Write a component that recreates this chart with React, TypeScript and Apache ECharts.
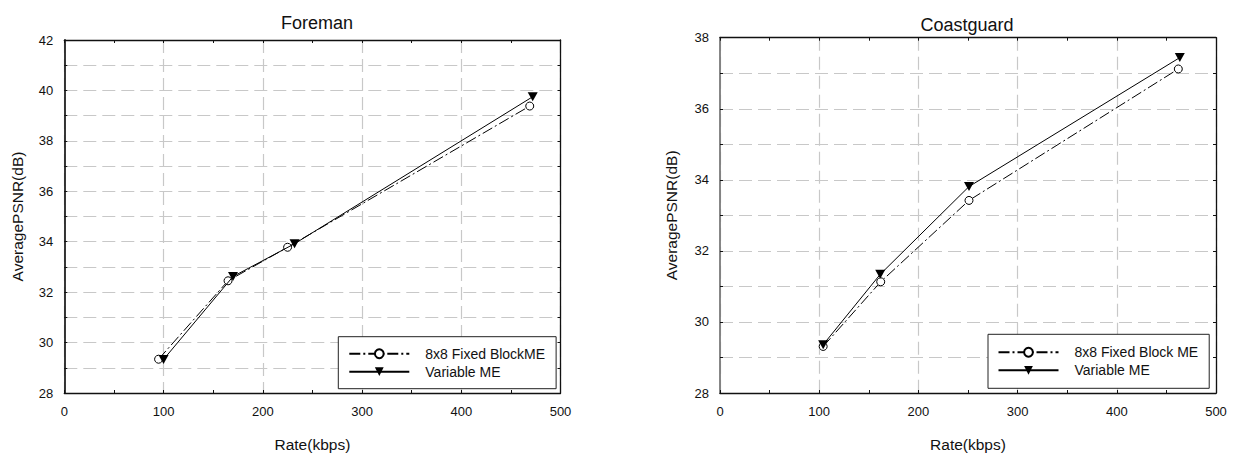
import React, { useEffect, useRef } from "react";
import * as echarts from "echarts";

const FONT = "'Liberation Sans', Arial, Helvetica, sans-serif";

const titles = ["Foreman", "Coastguard"];
const xAxisName = "Rate(kbps)";
const yAxisName = "AveragePSNR(dB)";

const foremanFixedName = "8x8 Fixed BlockME";
const coastFixedName = "8x8 Fixed Block ME";
const variableName = "Variable ME";

// Foreman: [rate kbps, PSNR dB]
const foremanFixed = [
  [95, 29.34],
  [165, 32.45],
  [225, 33.78],
  [469, 39.38],
];
const foremanVariable = [
  [100, 29.33],
  [170, 32.62],
  [232, 33.92],
  [472, 39.75],
];

// Coastguard: [rate kbps, PSNR dB]
const coastFixed = [
  [104, 29.31],
  [162, 31.13],
  [251, 33.42],
  [462, 37.12],
];
const coastVariable = [
  [104, 29.36],
  [161.5, 31.34],
  [251, 33.81],
  [463.5, 37.44],
];

const xRange = { min: 0, max: 500, interval: 100 };
const foremanY = { min: 28, max: 42, interval: 2 };
const coastY = { min: 28, max: 38, interval: 2 };

const gridDash = { color: "#c8c8c8", width: 1.2, type: [13, 6] as number[] };

function xAxes(gridIndex: number) {
  const bottom = {
    type: "value",
    gridIndex,
    position: "bottom",
    ...xRange,
    name: xAxisName,
    nameLocation: "middle",
    nameGap: 43,
    nameTextStyle: { fontFamily: FONT, fontSize: 15.5, color: "#111" },
    axisLine: { show: true, onZero: false, lineStyle: { color: "#111", width: 1.3 } },
    axisTick: { show: true, inside: true, length: 3, lineStyle: { color: "#111" } },
    minorTick: { show: true, splitNumber: 2, length: 3, lineStyle: { color: "#111" } },
    axisLabel: { fontFamily: FONT, fontSize: 13, color: "#111", margin: 12 },
    splitLine: { show: true, lineStyle: gridDash },
  };
  const top = {
    type: "value",
    gridIndex,
    position: "top",
    ...xRange,
    axisLine: { show: true, onZero: false, lineStyle: { color: "#111", width: 1.3 } },
    axisTick: { show: true, inside: true, length: 3, lineStyle: { color: "#111" } },
    minorTick: { show: true, splitNumber: 2, length: 3, lineStyle: { color: "#111" } },
    axisLabel: { show: false },
    splitLine: { show: false },
  };
  return [bottom, top];
}

function yAxes(gridIndex: number, range: any, leftColor: string, nameGap: number) {
  const left = {
    type: "value",
    gridIndex,
    position: "left",
    ...range,
    name: yAxisName,
    nameLocation: "middle",
    nameGap,
    nameTextStyle: { fontFamily: FONT, fontSize: 15.5, color: "#111" },
    axisLine: { show: true, onZero: false, lineStyle: { color: leftColor, width: 1.8 } },
    axisTick: { show: true, inside: true, length: 3, lineStyle: { color: "#111" } },
    minorTick: { show: true, splitNumber: 2, length: 3, lineStyle: { color: "#111" } },
    axisLabel: { fontFamily: FONT, fontSize: 13, color: "#111", margin: 11 },
    splitLine: { show: true, lineStyle: gridDash },
    minorSplitLine: { show: true, lineStyle: gridDash },
  };
  const right = {
    type: "value",
    gridIndex,
    position: "right",
    ...range,
    axisLine: { show: true, onZero: false, lineStyle: { color: "#111", width: 1.3 } },
    axisTick: { show: true, inside: true, length: 3, lineStyle: { color: "#111" } },
    minorTick: { show: true, splitNumber: 2, length: 3, lineStyle: { color: "#111" } },
    axisLabel: { show: false },
    splitLine: { show: false },
  };
  return [left, right];
}

function fixedSeries(name: string, data: number[][], xi: number, yi: number) {
  return {
    type: "line",
    name,
    data,
    xAxisIndex: xi,
    yAxisIndex: yi,
    symbol: "circle",
    symbolSize: 8,
    itemStyle: { color: "#fff", borderColor: "#000", borderWidth: 1 },
    lineStyle: { color: "#000", width: 1, type: [11, 3, 2, 3] },
    z: 3,
  };
}

function variableSeries(name: string, data: number[][], xi: number, yi: number) {
  return {
    type: "line",
    name,
    data,
    xAxisIndex: xi,
    yAxisIndex: yi,
    symbol: "triangle",
    symbolRotate: 180,
    symbolSize: [10, 9],
    itemStyle: { color: "#000" },
    lineStyle: { color: "#000", width: 1, type: "solid" },
    z: 4,
  };
}

export default function App() {
  const ref = useRef<HTMLDivElement>(null);

  useEffect(() => {
    if (!ref.current) return;
    const chart = echarts.init(ref.current, undefined, { renderer: "svg" });
    const legendCommon = {
      orient: "vertical",
      itemWidth: 60,
      itemHeight: 11,
      itemGap: 4,
      backgroundColor: "#fff",
      borderColor: "#222",
      borderWidth: 1,
      borderRadius: 0,
      textStyle: { fontFamily: FONT, fontSize: 14, color: "#111", padding: [0, 0, 0, 11] },
      selectedMode: false,
      z: 10,
    };
    chart.setOption({
      animation: false,
      backgroundColor: "#fff",
      title: [
        {
          text: titles[0],
          left: 312,
          top: 9,
          textAlign: "center",
          textStyle: { fontFamily: FONT, fontSize: 18, fontWeight: "normal", color: "#111" },
        },
        {
          text: titles[1],
          left: 962,
          top: 10.5,
          textAlign: "center",
          textStyle: { fontFamily: FONT, fontSize: 18, fontWeight: "normal", color: "#111" },
        },
      ],
      grid: [
        { left: 64.3, top: 40, width: 496.2, height: 356, containLabel: false },
        { left: 720, top: 37.7, width: 496, height: 357.6, containLabel: false },
      ],
      xAxis: [...xAxes(0), ...xAxes(1)],
      yAxis: [...yAxes(0, foremanY, "#222", 39), ...yAxes(1, coastY, "#7a7a7a", 41)],
      legend: [
        {
          ...legendCommon,
          left: 338.3,
          top: 336.7,
          padding: [10, 11, 10, 10],
          data: [foremanFixedName, variableName],
        },
        {
          ...legendCommon,
          left: 988,
          top: 334.3,
          padding: [11, 11, 11, 9.5],
          data: [coastFixedName, variableName],
        },
      ],
      series: [
        fixedSeries(foremanFixedName, foremanFixed, 0, 0),
        variableSeries(variableName, foremanVariable, 0, 0),
        fixedSeries(coastFixedName, coastFixed, 2, 2),
        variableSeries(variableName, coastVariable, 2, 2),
      ],
    });
    return () => chart.dispose();
  }, []);

  return (
    <div style={{ position: "fixed", left: 0, top: 0, width: 1236, height: 457, background: "#fff" }}>
      <div ref={ref} style={{ width: 1236, height: 457 }} />
    </div>
  );
}
